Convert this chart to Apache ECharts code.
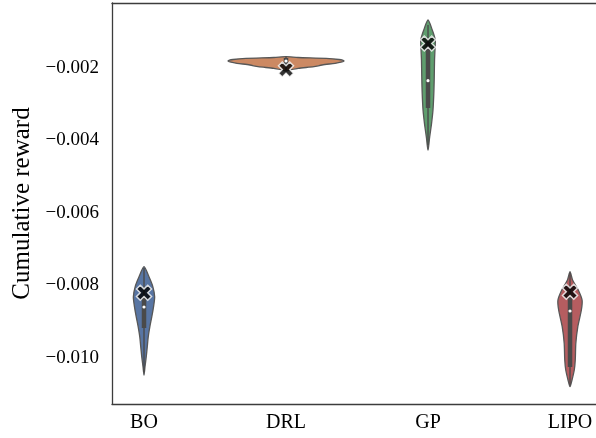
<!DOCTYPE html>
<html>
<head>
<meta charset="utf-8">
<script src="https://cdn.jsdelivr.net/npm/echarts@6/dist/echarts.min.js"></script>
<style>
  html, body { margin: 0; padding: 0; background: #ffffff; }
  #chart { width: 596px; height: 438px; }
</style>
</head>
<body>
<div id="chart"></div>
<script>
// Methods compared
const categories = ['BO', 'DRL', 'GP', 'LIPO'];
const violinColors = ['#5875A3', '#CC8963', '#5F9E6E', '#B55D60'];

// Density outline of each violin: reward levels (top to bottom) and half-widths in category units
const boLevels     = [-0.00748, -0.00776, -0.00803, -0.00831, -0.00859, -0.00886, -0.00914, -0.00941, -0.00969, -0.00996, -0.01024, -0.01047];
const boHalfWidths = [0, 0.035, 0.062, 0.075, 0.067, 0.055, 0.041, 0.030, 0.023, 0.016, 0.007, 0];

const drlLevels     = [-0.001688, -0.001710, -0.001732, -0.001766, -0.001807, -0.001840, -0.001870, -0.001917, -0.001964, -0.002008, -0.002055, -0.002083];
const drlHalfWidths = [0, 0.085, 0.282, 0.373, 0.408, 0.387, 0.345, 0.254, 0.197, 0.085, 0.028, 0];

const gpLevels     = [-0.000676, -0.000952, -0.001228, -0.001503, -0.001779, -0.002240, -0.002698, -0.003159, -0.003526, -0.003895, -0.004171, -0.004262];
const gpHalfWidths = [0, 0.030, 0.051, 0.049, 0.046, 0.044, 0.041, 0.035, 0.025, 0.012, 0.004, 0];

const lipoLevels     = [-0.007619, -0.007848, -0.008124, -0.008400, -0.008676, -0.009137, -0.009595, -0.010055, -0.010331, -0.010607, -0.010792];
const lipoHalfWidths = [0, 0.018, 0.058, 0.085, 0.080, 0.055, 0.041, 0.037, 0.030, 0.014, 0];

// Box summaries per method
const whiskerHigh = [-0.007517, -0.001690, -0.000814, -0.007655];
const quartile3   = [-0.008310, -0.001724, -0.001283, -0.008345];
const medians     = [-0.008593, -0.001807, -0.002350, -0.008703];
const quartile1   = [-0.009172, -0.001940, -0.003103, -0.010248];
const whiskerLow  = [-0.010386, -0.002070, -0.004124, -0.010745];

// Highlighted value per method (X marker)
const markerValues = [-0.008199, -0.002041, -0.001324, -0.008171];

// Y tick labels
const yTicks = [-0.010, -0.008, -0.006, -0.004, -0.002];

const levelSets = [boLevels, drlLevels, gpLevels, lipoLevels];
const widthSets = [boHalfWidths, drlHalfWidths, gpHalfWidths, lipoHalfWidths];

const serif = "'Liberation Serif', 'Times New Roman', Times, serif";

function renderViolin(params, api) {
  const i = api.value(0);
  const levels = levelSets[i];
  const widths = widthSets[i];
  const right = levels.map((v, k) => api.coord([i + widths[k], v]));
  const left = levels.map((v, k) => api.coord([i - widths[k], v])).slice(1, -1).reverse();
  const points = right.concat(left);
  const top = api.coord([i, whiskerHigh[i]]);
  const bottom = api.coord([i, whiskerLow[i]]);
  const q3 = api.coord([i, quartile3[i]]);
  const q1 = api.coord([i, quartile1[i]]);
  const med = api.coord([i, medians[i]]);
  return {
    type: 'group',
    children: [
      {
        type: 'polygon',
        shape: { points: points, smooth: 0.25 },
        style: { fill: violinColors[i], stroke: '#575757', lineWidth: 1.3 }
      },
      {
        type: 'line',
        shape: { x1: top[0], y1: top[1], x2: bottom[0], y2: bottom[1] },
        style: { stroke: '#4a4a4a', lineWidth: 1.4 }
      },
      {
        type: 'line',
        shape: { x1: q3[0], y1: q3[1], x2: q1[0], y2: q1[1] },
        style: { stroke: '#4a4a4a', lineWidth: 4.5 }
      },
      {
        type: 'circle',
        shape: { cx: med[0], cy: med[1], r: 1.6 },
        style: { fill: '#ffffff' }
      }
    ]
  };
}

const chart = echarts.init(document.getElementById('chart'), null, { renderer: 'canvas' });

chart.setOption({
  backgroundColor: '#ffffff',
  animation: false,
  grid: { left: 112, right: 0, top: 3, bottom: 34, outerBoundsMode: 'none' },
  xAxis: [
    {
      type: 'value',
      min: -0.2254,
      max: 3.183,
      position: 'bottom',
      splitLine: { show: false },
      axisTick: { show: false },
      axisLine: { show: true, onZero: false, lineStyle: { color: '#3c3c3c', width: 1.3 } },
      axisLabel: {
        customValues: [0, 1, 2, 3],
        formatter: (v) => categories[Math.round(v)],
        margin: 9,
        fontFamily: serif,
        fontSize: 20,
        color: '#000000'
      }
    },
    {
      type: 'value',
      min: -0.2254,
      max: 3.183,
      position: 'top',
      splitLine: { show: false },
      axisTick: { show: false },
      axisLabel: { show: false },
      axisLine: { show: true, onZero: false, lineStyle: { color: '#3c3c3c', width: 1.3 } }
    }
  ],
  yAxis: {
    type: 'value',
    min: -0.011269,
    max: -0.000207,
    name: 'Cumulative reward',
    nameLocation: 'middle',
    nameGap: 77,
    nameTextStyle: { fontFamily: serif, fontSize: 25, color: '#000000' },
    splitLine: { show: false },
    axisTick: { show: false },
    axisLine: { show: true, onZero: false, lineStyle: { color: '#3c3c3c', width: 1.3 } },
    axisLabel: {
      customValues: yTicks,
      formatter: (v) => (v < 0 ? '\u2212' : '') + Math.abs(v).toFixed(3),
      margin: 13,
      fontFamily: serif,
      fontSize: 19,
      color: '#000000'
    }
  },
  series: [
    {
      type: 'custom',
      renderItem: renderViolin,
      data: categories.map((c, i) => [i]),
      encode: { x: 0 },
      z: 2
    },
    {
      type: 'scatter',
      data: markerValues.map((v, i) => [i, v]),
      symbol: 'path://M0,3 L3,0 L6,3 L9,0 L12,3 L9,6 L12,9 L9,12 L6,9 L3,12 L0,9 L3,6 Z',
      symbolSize: 15,
      itemStyle: { color: '#000000', borderColor: '#ffffff', borderWidth: 1.5 },
      z: 5
    }
  ]
});
</script>
</body>
</html>
